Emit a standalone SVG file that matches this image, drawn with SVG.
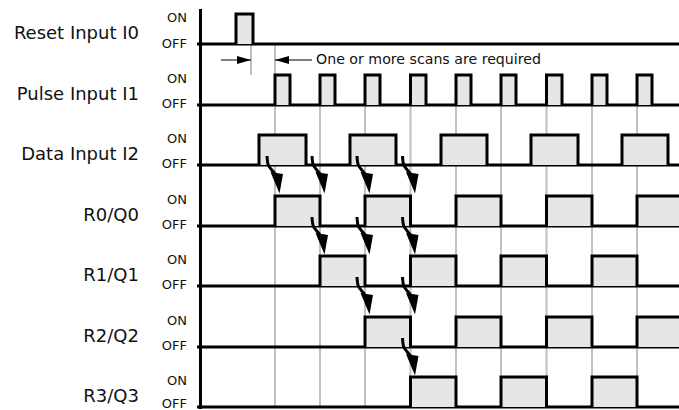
<svg xmlns="http://www.w3.org/2000/svg" xmlns:xlink="http://www.w3.org/1999/xlink" width="679" height="410" viewBox="0 0 679 410">
<style>
.lbl{font-family:"DejaVu Sans","Liberation Sans",sans-serif;font-size:18px;fill:#111;text-anchor:end}
.st{font-family:"DejaVu Sans","Liberation Sans",sans-serif;font-size:13px;fill:#111;text-anchor:end}
.note{font-family:"DejaVu Sans","Liberation Sans",sans-serif;font-size:14.5px;fill:#111}
.base{stroke:#000;stroke-width:3;fill:none}
.pulse{stroke:#000;stroke-width:3;fill:#e6e6e6;stroke-linejoin:miter}
.grid{stroke:#c0c0c0;stroke-width:2;fill:none}
.thin{stroke:#000;stroke-width:1;fill:none}
</style>
<defs>
<g id="carrow">
<path d="M0,0 C0.5,8 1,10 4,13 L8.5,18.5" fill="none" stroke="#000" stroke-width="3"/>
<polygon points="3.5,16 16,18 12.5,37.5" fill="#000"/>
</g>
<marker id="ah" markerWidth="14" markerHeight="8" refX="14" refY="4" orient="auto" markerUnits="userSpaceOnUse">
<polygon points="0,0 14,4 0,8" fill="#000"/>
</marker>
</defs>
<g id="grid">
<line class="grid" x1="251" y1="44" x2="251" y2="75"/>
<line class="grid" x1="275" y1="44" x2="275" y2="407"/>
<line class="grid" x1="320" y1="75" x2="320" y2="407"/>
<line class="grid" x1="365" y1="75" x2="365" y2="407"/>
<line class="grid" x1="410.5" y1="75" x2="410.5" y2="407"/>
<line class="grid" x1="456" y1="75" x2="456" y2="407"/>
<line class="grid" x1="501" y1="75" x2="501" y2="407"/>
<line class="grid" x1="546.5" y1="75" x2="546.5" y2="407"/>
<line class="grid" x1="592" y1="75" x2="592" y2="407"/>
<line class="grid" x1="637" y1="75" x2="637" y2="407"/>
</g>
<line id="axis" class="base" x1="200.5" y1="9" x2="200.5" y2="409"/>
<g id="reset">
<text class="lbl" x="139" y="38.5">Reset Input I0</text>
<text class="st" x="187" y="22">ON</text>
<text class="st" x="187" y="47.5">OFF</text>
<line class="base" x1="197" y1="44" x2="679" y2="44"/>
<path class="pulse" d="M236,44 V14 H253 V44"/>
</g>
<g id="pulse">
<text class="lbl" x="139" y="100">Pulse Input I1</text>
<text class="st" x="187" y="83">ON</text>
<text class="st" x="187" y="108">OFF</text>
<line class="base" x1="197" y1="105" x2="679" y2="105"/>
<path class="pulse" d="M275,105 V75 H290 V105 M320,105 V75 H335 V105 M365,105 V75 H380 V105 M410.5,105 V75 H426 V105 M456,105 V75 H471 V105 M501,105 V75 H516 V105 M546.5,105 V75 H562 V105 M592,105 V75 H607 V105 M637,105 V75 H652 V105"/>
</g>
<g id="data">
<text class="lbl" x="139" y="160">Data Input I2</text>
<text class="st" x="187" y="143">ON</text>
<text class="st" x="187" y="168">OFF</text>
<line class="base" x1="197" y1="165" x2="679" y2="165"/>
<path class="pulse" d="M259,165 V135 H306 V165 M350,165 V135 H396 V165 M441,165 V135 H487 V165 M531,165 V135 H578 V165 M622,165 V135 H668 V165"/>
</g>
<g id="r0">
<text class="lbl" x="139" y="221">R0/Q0</text>
<text class="st" x="187" y="204">ON</text>
<text class="st" x="187" y="229">OFF</text>
<line class="base" x1="197" y1="226" x2="679" y2="226"/>
<path class="pulse" d="M275,226 V196 H320 V226 M365,226 V196 H410.5 V226 M456,226 V196 H501 V226 M546.5,226 V196 H592 V226 M637,226 V196 H684 V226"/>
</g>
<g id="r1">
<text class="lbl" x="139" y="281">R1/Q1</text>
<text class="st" x="187" y="264">ON</text>
<text class="st" x="187" y="289">OFF</text>
<line class="base" x1="197" y1="286" x2="679" y2="286"/>
<path class="pulse" d="M320,286 V256 H365 V286 M410.5,286 V256 H456 V286 M501,286 V256 H546.5 V286 M592,286 V256 H637 V286"/>
</g>
<g id="r2">
<text class="lbl" x="139" y="342">R2/Q2</text>
<text class="st" x="187" y="325">ON</text>
<text class="st" x="187" y="350">OFF</text>
<line class="base" x1="197" y1="347" x2="679" y2="347"/>
<path class="pulse" d="M365,347 V317 H410.5 V347 M456,347 V317 H501 V347 M546.5,347 V317 H592 V347 M637,347 V317 H684 V347"/>
</g>
<g id="r3">
<text class="lbl" x="139" y="402">R3/Q3</text>
<text class="st" x="187" y="407.5">OFF</text>
<text class="st" x="187" y="384.5">ON</text>
<line class="base" x1="197" y1="407" x2="679" y2="407"/>
<path class="pulse" d="M410.5,407 V377 H456 V407 M501,407 V377 H546.5 V407 M592,407 V377 H637 V407"/>
</g>
<g id="connectors">
<line class="thin" x1="221" y1="60" x2="251" y2="60" marker-end="url(#ah)"/>
<line class="thin" x1="312" y1="60" x2="275" y2="60" marker-end="url(#ah)"/>
<text class="note" x="316" y="64" textLength="225" lengthAdjust="spacingAndGlyphs">One or more scans are required</text>
<use xlink:href="#carrow" x="267" y="156"/>
<use xlink:href="#carrow" x="312" y="156"/>
<use xlink:href="#carrow" x="357" y="156"/>
<use xlink:href="#carrow" x="402.5" y="156"/>
<use xlink:href="#carrow" x="312" y="217"/>
<use xlink:href="#carrow" x="357" y="217"/>
<use xlink:href="#carrow" x="402.5" y="217"/>
<use xlink:href="#carrow" x="357" y="277"/>
<use xlink:href="#carrow" x="402.5" y="277"/>
<use xlink:href="#carrow" x="402.5" y="338"/>
</g>
</svg>
